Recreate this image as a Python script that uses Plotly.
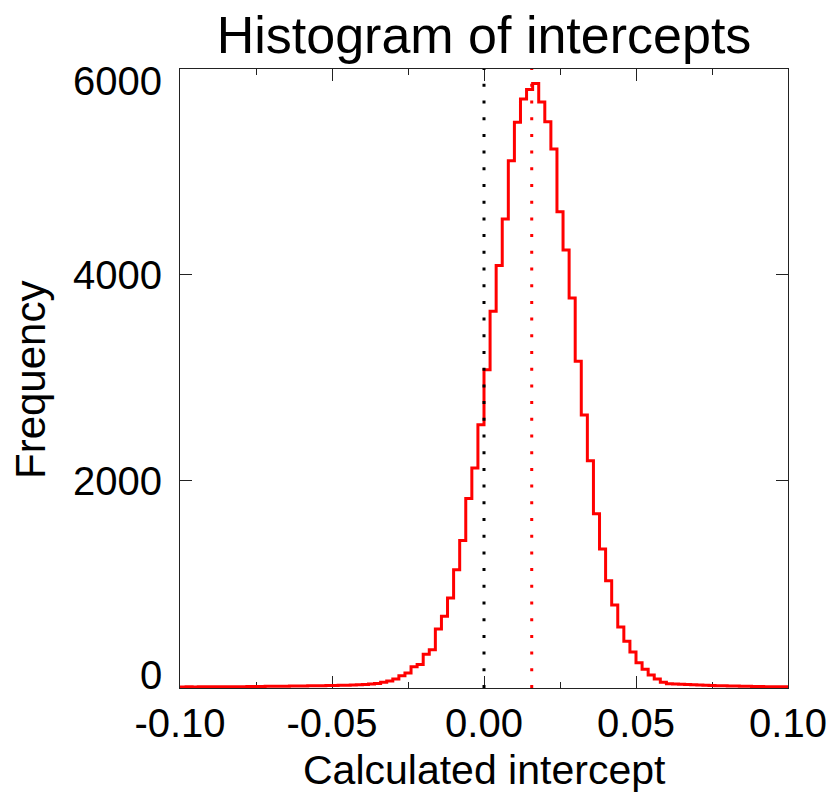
import numpy as np
import plotly.graph_objects as go

# Histogram data: bin width 0.002 from -0.10 to 0.10
bin_start = -0.10
bin_width = 0.002
counts = [
    0, 1, 0, 1, 1, 2, 1, 2, 2, 3,          # -0.100 .. -0.082
    3, 4, 4, 5, 6, 6, 7, 8, 9, 9,          # -0.080 .. -0.062
    10, 11, 12, 13, 14, 15, 16, 17, 19, 21,  # -0.060 .. -0.042
    24, 28, 33, 47, 58, 78, 110, 136, 197, 217,  # -0.040 .. -0.022
    317, 362, 563, 686, 864, 1139, 1421, 1830, 2126, 2547,  # -0.020 .. -0.002
    3081, 3648, 4091, 4544, 5110, 5483, 5709, 5800, 5860, 5680,  # 0.000 .. 0.018
    5489, 5223, 4615, 4243, 3777, 3162, 2641, 2197, 1683, 1340,  # 0.020 .. 0.038
    1032, 796, 583, 445, 340, 236, 172, 117, 78, 45,  # 0.040 .. 0.058
    32, 29, 26, 24, 22, 19, 17, 15, 13, 11,  # 0.060 .. 0.078
    10, 9, 7, 6, 5, 4, 3, 3, 2, 1,          # 0.080 .. 0.098
]
zero_line = 0.0
mean_intercept = 0.0157

x_ticks = [-0.10, -0.05, 0.00, 0.05, 0.10]
x_ticktext = ["-0.10", "-0.05", "0.00", "0.05", "0.10"]
y_ticks = [0, 2000, 4000, 6000]
y_ticktext = ["0", "2000", "4000", "6000"]

title_text = "Histogram of intercepts"
x_title = "Calculated intercept"
y_title = "Frequency"

edges = bin_start + bin_width * np.arange(len(counts) + 1)
step_y = counts + [counts[-1]]

FONT = "Liberation Sans"

fig = go.Figure()
fig.add_trace(go.Scatter(
    x=edges, y=step_y, mode="lines",
    line=dict(shape="hv", color="#ff0000", width=3),
    showlegend=False, hoverinfo="skip",
))

for xv, col in [(zero_line, "#000000"), (mean_intercept, "#ff0000")]:
    fig.add_shape(type="line", xref="x", yref="paper", x0=xv, x1=xv, y0=0, y1=1,
                  line=dict(color=col, width=3, dash="3px,13.7px"))

annotations = []
for v, t in zip(y_ticks, y_ticktext):
    shift = 0
    if v == y_ticks[0]:
        shift = 12
    elif v == y_ticks[-1]:
        shift = -12
    annotations.append(dict(x=0, xref="paper", y=v, yref="y", text=t, showarrow=False,
                            xanchor="right", yanchor="middle", xshift=-16, yshift=shift,
                            font=dict(family=FONT, size=40, color="black")))
annotations.append(dict(x=0.5, xref="paper", y=-(770 - 688) / 619, yref="paper", text=x_title,
                        showarrow=False, xanchor="center", yanchor="middle",
                        font=dict(family=FONT, size=41, color="black")))
annotations.append(dict(x=-(180 - 30) / 608, xref="paper", y=(688 - 380) / 619, yref="paper",
                        text=y_title, showarrow=False, textangle=-90,
                        xanchor="center", yanchor="middle",
                        font=dict(family=FONT, size=42, color="black")))

fig.update_layout(
    width=832, height=793,
    margin=dict(l=180, r=44, t=69, b=105, autoexpand=False),
    paper_bgcolor="white", plot_bgcolor="white",
    title=dict(text=title_text, x=(180 + 304) / 832, xanchor="center",
               y=1 - 35 / 793, yanchor="middle", yref="container",
               font=dict(family=FONT, size=52, color="black")),
    annotations=annotations,
    font=dict(family=FONT, color="black"),
)
fig.update_xaxes(
    range=[-0.10, 0.10], tickvals=x_ticks, ticktext=x_ticktext,
    ticks="inside", ticklen=12, tickwidth=1, tickcolor="#222",
    minor=dict(dtick=0.025, tick0=-0.1, ticks="inside", ticklen=6, tickwidth=1, tickcolor="#222"),
    showline=True, linecolor="#222", linewidth=1.3, mirror="ticks",
    showgrid=False, zeroline=False, layer="below traces", automargin=False,
    tickfont=dict(family=FONT, size=40, color="black"),
)
fig.update_yaxes(
    range=[-10, 6000], tickvals=y_ticks, showticklabels=False,
    ticks="inside", ticklen=12, tickwidth=1, tickcolor="#222",
    showline=True, linecolor="#222", linewidth=1.3, mirror="ticks",
    showgrid=False, zeroline=False, layer="below traces", automargin=False,
)

fig.write_html("out.html")
